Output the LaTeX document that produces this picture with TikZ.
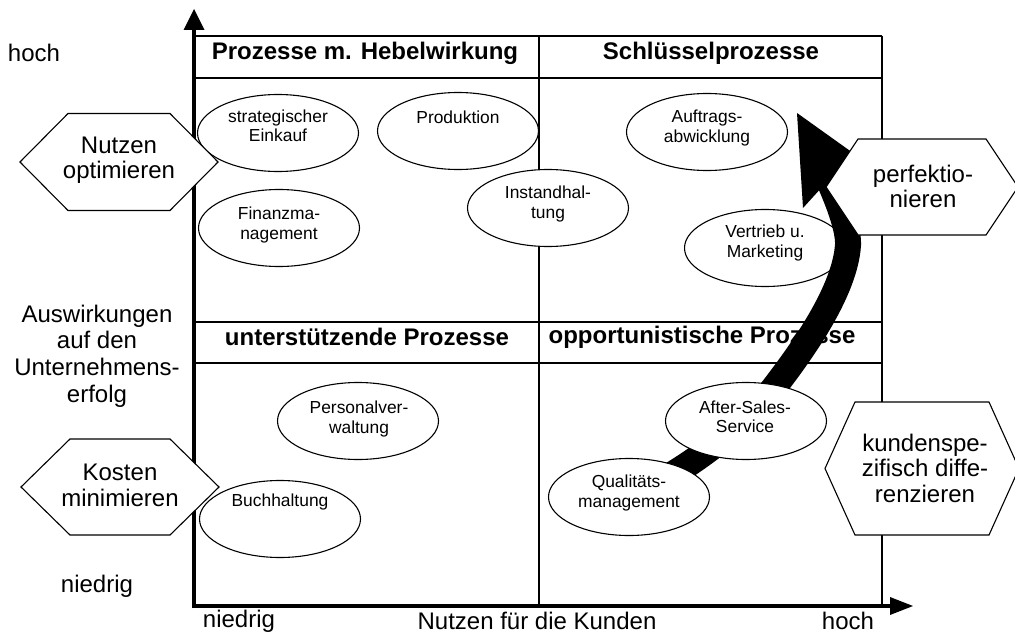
\documentclass[tikz,border=0pt]{standalone}
\usepackage{fontspec}
\setmainfont{Liberation Sans}
\usetikzlibrary{shapes.geometric,calc}

\tikzset{
 gridln/.style={line width=1.1pt},
 gridthk/.style={line width=2pt},
 yaxisline/.style={line width=4.5pt},
 xaxisline/.style={line width=3.5pt},
 proc/.style={ellipse, draw, fill=white, line width=1.1pt, minimum width=161pt, minimum height=77pt, inner sep=0pt},
 ptext/.style={font=\fontsize{17.4}{19.5}\selectfont, align=center, inner sep=0pt},
 axlabel/.style={font=\fontsize{24}{26.7}\selectfont, align=center, inner sep=0pt},
 header/.style={font=\fontsize{24}{28}\selectfont\bfseries, inner sep=0pt},
 hexline/.style={draw, fill=white, line width=1.1pt},
 hextext/.style={font=\fontsize{24}{25.5}\selectfont, align=center, inner sep=0pt},
 shaft/.style={line width=26pt},
}

\newcommand\myhex[5]{%
  \coordinate (#1) at #2;
  \filldraw[hexline] ($(#1)+(-#3,0)$) -- ($(#1)+(-#3+#5,-#4)$) -- ($(#1)+(#3-#5,-#4)$) -- ($(#1)+(#3,0)$) -- ($(#1)+(#3-#5,#4)$) -- ($(#1)+(-#3+#5,#4)$) -- cycle;}

\begin{document}
\begin{tikzpicture}[x=1pt,y=-1pt]
\useasboundingbox (0,0) rectangle (1015,634);
\clip (0,0) rectangle (1015,634);
\fill[white] (0,0) rectangle (1015,634);

% grid
\draw[gridln] (194,36) -- (882,36);
\draw[gridln] (194,78) -- (882,78);
\draw[gridln] (194,322) -- (882,322);
\draw[gridthk] (194,363) -- (882,363);
\draw[gridln] (539,36) -- (539,606);
\draw[gridln] (882,36) -- (882,606);

% axes
\coordinate (ybase) at (194,608);
\coordinate (yend) at (194,29);
\coordinate (ytip) at (194,9);
\draw[yaxisline] (ybase) -- (yend);
\fill (ytip) -- (183.5,30) -- (204.5,30) -- cycle;
\coordinate (xbase) at (192,606);
\coordinate (xend) at (891,606);
\coordinate (xtip) at (913,606);
\draw[xaxisline] (xbase) -- (xend);
\fill (xtip) -- (890,597) -- (890,615) -- cycle;

% headers
\node[header] (h1) at (365,53) {Prozesse m. Hebelwirkung};
\node[header] (h2) at (711,53) {Schlüsselprozesse};
\node[header] (h3) at (367,337) {unterstützende Prozesse};
\node[header] (h4) at (702,337) {opportunistische Prozesse};

% ellipses (below arrow)
\node[proc] (se) at (278,133) {};
\node[ptext] (set) at (278,126) {strategischer\\Einkauf};
\node[proc] (pr) at (458,131) {};
\node[ptext] (prt) at (458,117) {Produktion};
\node[proc] (fm) at (279,228) {};
\node[ptext] (fmt) at (279,225) {Finanzma-\\nagement};
\node[proc] (ih) at (548,208) {};
\node[ptext] (iht) at (548,204) {Instandhal-\\tung};
\node[proc] (aa) at (707,132) {};
\node[ptext] (aat) at (707,128) {Auftrags-\\abwicklung};
\node[proc] (pv) at (358,421) {};
\node[ptext] (pvt) at (359,419) {Personalver-\\waltung};
\node[proc] (bh) at (280,519) {};
\node[ptext] (bht) at (280,502) {Buchhaltung};
\node[proc] (vm) at (765,248) {};
\node[ptext] (vmt) at (765,243) {Vertrieb u.\\Marketing};

% big arrow
\coordinate (qmc) at (629,497);
\coordinate (asc) at (746,421);
\coordinate (arrend) at (822,165);
\coordinate (atip) at (797,113);
\coordinate (abl) at (803,208);
\coordinate (abr) at (853,153);
\draw[shaft] (qmc) .. controls (680,475) and (743,429) .. (776,385)
  .. controls (805,347) and (845,290) .. (848,245)
  .. controls (849,225) and (832.5,188) .. (arrend);
\fill (atip) -- (abl) -- (abr) -- cycle;

% ellipses above arrow
\node[proc] (as) at (asc) {};
\node[ptext] (ast) at (745,417) {After-Sales-\\Service};
\node[proc] (qm) at (qmc) {};
\node[ptext] (qmt) at (629,493) {Qualitäts-\\management};

% hexagons
\myhex{hn}{(119,162)}{99}{48.5}{48}
\node[hextext] (hnt) at (119,160) {Nutzen\\optimieren};
\myhex{hk}{(120,487)}{99}{48}{49}
\node[hextext] (hkt) at (120,485.5) {Kosten\\minimieren};
\myhex{hp}{(922,187)}{96}{48}{32}
\node[hextext] (hpt) at (923,186.5) {perfektio-\\nieren};
\myhex{hd}{(922,468.5)}{97}{66.5}{30}
\node[hextext] (hdt) at (925,468) {kundenspe-\\zifisch diffe-\\renzieren};

% axis labels
\node[axlabel] (yhoch) at (34,53) {hoch};
\node[axlabel] (yname) at (97,356) {Auswirkungen\\auf den\\Unternehmens-\\erfolg};
\node[axlabel] (yniedrig) at (97,586) {niedrig};
\node[axlabel] (xniedrig) at (239,621) {niedrig};
\node[axlabel] (xname) at (537,621) {Nutzen für die Kunden};
\node[axlabel] (xhoch) at (848,621) {hoch};
\end{tikzpicture}
\end{document}
